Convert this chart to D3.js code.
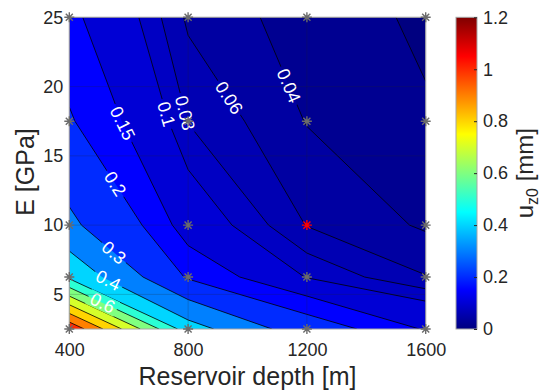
<!DOCTYPE html>
<html>
<head>
<meta charset="utf-8">
<script src="https://cdn.jsdelivr.net/npm/d3@7/dist/d3.min.js"></script>
<style>
  body { margin: 0; background: #fff; }
  text { font-family: "Liberation Sans", Arial, sans-serif; fill: #262626; }
</style>
</head>
<body>
<svg id="chart" width="543" height="390"></svg>
<script>
// grid of the simulations
const depths = [400, 800, 1200, 1600];
const moduli = [2.5, 6.25, 10, 17.5, 25];
// u_z0 [mm], one row per modulus (2.5 -> 25), one column per depth
const uz0 = [
  [1.08, 0.444, 0.24, 0.145],
  [0.48, 0.19, 0.098, 0.061],
  [0.32, 0.124, 0.059, 0.037],
  [0.206, 0.079, 0.039, 0.022],
  [0.162, 0.056, 0.0296, 0.0168]
];
const levels = [0.02, 0.04, 0.06, 0.08, 0.1, 0.15, 0.2, 0.3, 0.4, 0.5, 0.6, 0.7, 0.8, 0.9, 1.0, 1.1];

// inline contour labels (level, approximate spot)
const labelLevels = [0.04, 0.06, 0.08, 0.1, 0.15, 0.2, 0.3, 0.4, 0.6];
const labelDepths = [1132, 924, 784, 716, 565, 548, 548, 531, 514];
const labelModuli = [20.0, 19.0, 18.07, 17.95, 17.2, 12.9, 7.96, 6.0, 4.46];

const xTicks = [400, 800, 1200, 1600];
const yTicks = [5, 10, 15, 20, 25];
const cbTicks = [0, 0.2, 0.4, 0.6, 0.8, 1, 1.2];
const selected = [1200, 10];

const svg = d3.select('#chart');

/**
 * SIZES
 */
const pLeft = 69.3, pRight = 425.7, pTop = 17.3, pBottom = 329;
const cbLeft = 456, cbRight = 477;
const cMax = 1.2;
const font = '"Liberation Sans", Arial, sans-serif';

/**
 * SCALES
 */
const x = d3.scaleLinear().domain([400, 1600]).range([pLeft, pRight]);
const y = d3.scaleLinear().domain([2.5, 25]).range([pBottom, pTop]);
const cb = d3.scaleLinear().domain([0, cMax]).range([pBottom, pTop]);

// grid index -> data (piecewise, clamped to the data area)
const gx = d3.scaleLinear().domain(d3.range(depths.length)).range(depths).clamp(true);
const gy = d3.scaleLinear().domain(d3.range(moduli.length)).range(moduli).clamp(true);

// matlab jet
function jet(v) {
  const t = Math.max(0, Math.min(1, v / cMax));
  const c = (k) => Math.round(255 * Math.max(0, Math.min(1, 1.5 - Math.abs(4 * t - k))));
  return `rgb(${c(3)},${c(2)},${c(1)})`;
}

const defs = svg.append('defs');
defs.append('clipPath').attr('id', 'plot-clip')
  .append('rect').attr('x', pLeft).attr('y', pTop)
  .attr('width', pRight - pLeft).attr('height', pBottom - pTop);

/**
 * CONTOURS
 */
const contours = d3.contours()
  .size([depths.length, moduli.length])
  .thresholds(levels)(uz0.flat());

const toData = (p) => [gx(p[0] - 0.5), gy(p[1] - 0.5)];
const toPx = (d) => [x(d[0]), y(d[1])];

const plot = svg.append('g').attr('clip-path', 'url(#plot-clip)');

plot.append('rect')
  .attr('x', pLeft).attr('y', pTop)
  .attr('width', pRight - pLeft).attr('height', pBottom - pTop)
  .attr('fill', jet(0));

plot.selectAll('path.band')
  .data(contours)
  .join('path')
  .attr('class', 'band')
  .attr('fill', (d) => jet(d.value))
  .attr('d', (d) => d.coordinates.map((poly) => poly.map((ring) =>
    'M' + ring.map((p) => toPx(toData(p)).join(',')).join('L') + 'Z').join('')).join(''));

// contour line segments, leaving out pieces lying on the border
const onSameEdge = (a, b) =>
  (a[0] === depths[0] && b[0] === depths[0]) ||
  (a[0] === depths[depths.length - 1] && b[0] === depths[depths.length - 1]) ||
  (a[1] === moduli[0] && b[1] === moduli[0]) ||
  (a[1] === moduli[moduli.length - 1] && b[1] === moduli[moduli.length - 1]);

const segsByLevel = new Map();
contours.forEach((c) => {
  const segs = [];
  c.coordinates.forEach((poly) => poly.forEach((ring) => {
    for (let i = 0; i < ring.length - 1; i++) {
      const a = toData(ring[i]), b = toData(ring[i + 1]);
      if (onSameEdge(a, b)) continue;
      const pa = toPx(a), pb = toPx(b);
      if (pa[0] === pb[0] && pa[1] === pb[1]) continue;
      segs.push([pa, pb]);
    }
  }));
  segsByLevel.set(c.value, segs);
});

/**
 * LABELS (positions snapped to their line)
 */
const labels = labelLevels.map((lv, i) => {
  const P = [x(labelDepths[i]), y(labelModuli[i])];
  let best = null;
  (segsByLevel.get(lv) || []).forEach(([a, b]) => {
    const dx = b[0] - a[0], dy = b[1] - a[1];
    const len2 = dx * dx + dy * dy;
    let t = ((P[0] - a[0]) * dx + (P[1] - a[1]) * dy) / len2;
    t = Math.max(0, Math.min(1, t));
    const q = [a[0] + t * dx, a[1] + t * dy];
    const dist = Math.hypot(q[0] - P[0], q[1] - P[1]);
    if (!best || dist < best.dist) best = { q, dist, ang: Math.atan2(dy, dx) * 180 / Math.PI };
  });
  let ang = best ? best.ang : 0;
  if (ang > 90) ang -= 180;
  if (ang <= -90) ang += 180;
  return { text: String(lv), pos: best ? best.q : P, ang };
});

const mask = defs.append('mask').attr('id', 'label-gap')
  .attr('maskUnits', 'userSpaceOnUse')
  .attr('x', 0).attr('y', 0).attr('width', 543).attr('height', 390);
mask.append('rect').attr('width', 543).attr('height', 390).attr('fill', 'white');

const lineG = plot.append('g').attr('mask', 'url(#label-gap)');
lineG.selectAll('path.iso')
  .data(Array.from(segsByLevel.values()))
  .join('path')
  .attr('class', 'iso')
  .attr('fill', 'none')
  .attr('stroke', '#000')
  .attr('stroke-width', 0.8)
  .attr('d', (segs) => segs.map(([a, b]) => `M${a[0]},${a[1]}L${b[0]},${b[1]}`).join(''));

const labelG = plot.append('g');
labelG.selectAll('text')
  .data(labels)
  .join('text')
  .attr('transform', (d) => `translate(${d.pos[0]},${d.pos[1]}) rotate(${d.ang})`)
  .attr('text-anchor', 'middle')
  .attr('dy', '0.35em')
  .attr('font-size', 18)
  .style('fill', '#fff')
  .text((d) => d.text)
  .each(function (d) {
    const w = this.getComputedTextLength() + 6;
    mask.append('rect')
      .attr('x', -w / 2).attr('y', -8).attr('width', w).attr('height', 16)
      .attr('transform', `translate(${d.pos[0]},${d.pos[1]}) rotate(${d.ang})`)
      .attr('fill', 'black');
  });

/**
 * GRID
 */
const grid = svg.append('g').attr('stroke', '#262626').attr('stroke-opacity', 0.22).attr('stroke-width', 1);
grid.selectAll('line.gx').data(xTicks).join('line')
  .attr('x1', (d) => x(d)).attr('x2', (d) => x(d)).attr('y1', pTop).attr('y2', pBottom);
grid.selectAll('line.gy').data(yTicks).join('line')
  .attr('y1', (d) => y(d)).attr('y2', (d) => y(d)).attr('x1', pLeft).attr('x2', pRight);

svg.append('rect')
  .attr('x', pLeft).attr('y', pTop)
  .attr('width', pRight - pLeft).attr('height', pBottom - pTop)
  .attr('fill', 'none').attr('stroke', '#a6a6a6').attr('stroke-width', 1);

/**
 * AXES
 */
const xAxis = svg.append('g')
  .attr('transform', `translate(0,${pBottom})`)
  .call(d3.axisBottom(x).tickValues(xTicks).tickFormat(d3.format('d')).tickSize(0).tickPadding(14));
xAxis.select('.domain').remove();
xAxis.selectAll('text').attr('font-size', 18).style('fill', '#262626').style('font-family', font);

const yAxis = svg.append('g')
  .attr('transform', `translate(${pLeft},0)`)
  .call(d3.axisLeft(y).tickValues(yTicks).tickSize(0).tickPadding(6));
yAxis.select('.domain').remove();
yAxis.selectAll('text').attr('font-size', 18).style('fill', '#262626').style('font-family', font);

svg.append('text')
  .attr('x', (pLeft + pRight) / 2).attr('y', 385)
  .attr('text-anchor', 'middle').attr('font-size', 25)
  .text('Reservoir depth [m]');

svg.append('text')
  .attr('transform', 'translate(34,172) rotate(-90)')
  .attr('text-anchor', 'middle').attr('font-size', 25)
  .text('E [GPa]');

/**
 * MARKERS
 */
const r = 5, a = r * Math.SQRT1_2;
const star = `M${-r},0L${r},0M0,${-r}L0,${r}M${-a},${-a}L${a},${a}M${-a},${a}L${a},${-a}`;
const nodes = moduli.flatMap((e) => depths.map((dp) => [dp, e]));
svg.append('g').selectAll('path')
  .data(nodes)
  .join('path')
  .attr('d', star)
  .attr('transform', (d) => `translate(${x(d[0])},${y(d[1])})`)
  .attr('fill', 'none')
  .attr('stroke-width', 1.4)
  .attr('stroke', (d) => (d[0] === selected[0] && d[1] === selected[1]) ? '#ff0000' : '#6b6b6b');

/**
 * COLORBAR
 */
const grad = defs.append('linearGradient').attr('id', 'jet-grad')
  .attr('x1', 0).attr('y1', 1).attr('x2', 0).attr('y2', 0);
grad.selectAll('stop')
  .data(d3.range(0, 1.0001, 1 / 64))
  .join('stop')
  .attr('offset', (d) => d)
  .attr('stop-color', (d) => jet(d * cMax));

svg.append('rect')
  .attr('x', cbLeft).attr('y', pTop)
  .attr('width', cbRight - cbLeft).attr('height', pBottom - pTop)
  .attr('fill', 'url(#jet-grad)')
  .attr('stroke', '#a6a6a6').attr('stroke-width', 1);

const cbAxis = svg.append('g')
  .attr('transform', `translate(${cbRight},0)`)
  .call(d3.axisRight(cb).tickValues(cbTicks).tickFormat(d3.format('~g')).tickSize(-3).tickPadding(6));
cbAxis.select('.domain').remove();
cbAxis.selectAll('line').attr('stroke', '#262626');
cbAxis.selectAll('text').attr('font-size', 18).style('fill', '#262626').style('font-family', font);

const cbLabel = svg.append('text')
  .attr('transform', `translate(533,${(pTop + pBottom) / 2}) rotate(-90)`)
  .attr('text-anchor', 'middle').attr('font-size', 24);
cbLabel.append('tspan').text('u');
cbLabel.append('tspan').attr('font-size', 16).attr('dy', 5).text('z0');
cbLabel.append('tspan').attr('dy', -5).text(' [mm]');
</script>
</body>
</html>
